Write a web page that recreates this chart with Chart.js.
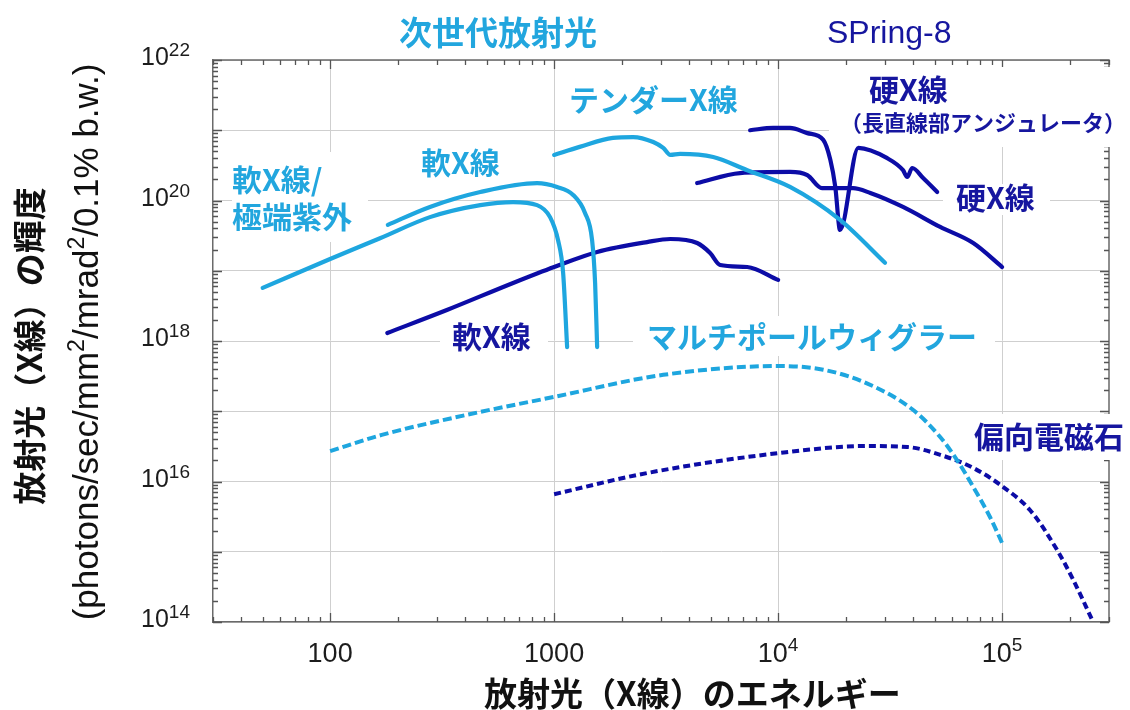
<!DOCTYPE html>
<html lang="ja">
<head>
<meta charset="utf-8">
<title>放射光の輝度</title>
<script src="https://cdn.jsdelivr.net/npm/chart.js@4.4.1/dist/chart.umd.min.js"></script>
<style>
  html, body { margin: 0; padding: 0; background: #ffffff; }
  #wrap { width: 1130px; height: 710px; }
</style>
</head>
<body>
<div id="wrap"><canvas id="chart" width="1130" height="710"></canvas></div>
<script>
// ---- Photon energy (eV) and brightness (photons/sec/mm^2/mrad^2/0.1% b.w.) ----

// Next-generation source: soft X-ray / extreme UV undulator
const euvEnergy = [50, 100, 167, 279, 468, 656, 839, 959, 1042, 1097, 1143];
const euvBrightness = [5.7e18, 1.47e19, 2.9e19, 5.8e19, 8.6e19, 9.5e19, 8.6e19, 5.8e19, 2.7e19, 9.3e18, 8.2e17];

// Next-generation source: soft X-ray undulator
const softNextEnergy = [181, 279, 468, 839, 1031, 1216, 1375, 1478, 1524, 1556];
const softNextBrightness = [4.5e19, 8.1e19, 1.32e20, 1.77e20, 1.56e20, 1.2e20, 6.6e19, 2.7e19, 6.7e18, 8.2e17];

// Next-generation source: tender X-ray undulator
const tenderEnergy = [1000, 1300, 1830, 2250, 2770, 3070, 3300, 3650, 5130, 7280, 11300, 18900, 30000];
const tenderBrightness = [4.45e20, 5.8e20, 7.8e20, 8.0e20, 6.8e20, 5.6e20, 4.45e20, 4.6e20, 4.16e20, 2.7e20, 1.56e20, 5.3e19, 1.3e19];

// Next-generation source: multipole wiggler
const mpwEnergy = [100, 170, 470, 1000, 3070, 10000, 15900, 24900, 40100, 52900, 63000, 74300, 88400, 100000];
const mpwBrightness = [2.7e16, 4.6e16, 9.8e16, 1.6e17, 3.3e17, 4.4e17, 3.9e17, 2.5e17, 1.04e17, 4.3e16, 2.0e16, 8.4e15, 3.1e15, 1.33e15];

// SPring-8: soft X-ray undulator
const softS8Energy = [180, 332, 656, 1000, 1556, 2600, 3300, 4350, 4970, 5510, 7280, 10000];
const softS8Brightness = [1.3e18, 2.76e18, 6.7e18, 1.13e19, 1.85e19, 2.56e19, 2.83e19, 2.48e19, 1.79e19, 1.21e19, 1.13e19, 7.4e18];

// SPring-8: standard hard X-ray undulator
const hardS8Energy = [4350, 6760, 11300, 13500, 15700, 21600, 25800, 36100, 52900, 74300, 100000];
const hardS8Brightness = [1.77e20, 2.46e20, 2.55e20, 2.3e20, 1.5e20, 1.5e20, 1.28e20, 8.1e19, 4.2e19, 2.48e19, 1.13e19];

// SPring-8: long straight-section undulator
const longUndEnergy = [7500, 9500, 11300, 13500, 15900, 17100, 18000, 18900, 22800, 30700, 36100, 37700, 39700, 44400, 51300];
const longUndBrightness = [1.0e21, 1.08e21, 1.08e21, 9.1e20, 7.3e20, 3.8e20, 1.56e20, 3.8e19, 5.6e20, 4.0e20, 2.7e20, 2.16e20, 2.9e20, 2.09e20, 1.32e20];

// SPring-8: bending magnet
const bmEnergy = [1000, 2600, 10200, 24900, 37700, 52900, 74300, 100900, 133400, 176000, 207600, 252400];
const bmBrightness = [6.6e15, 1.32e16, 2.55e16, 3.2e16, 3.1e16, 2.4e16, 1.56e16, 8.4e15, 3.9e15, 1.06e15, 4.0e14, 1.07e14];

// Axis tick labels
const xTickValues = [100, 1000, 1e4, 1e5];
const xTickBase = ['100', '1000', '10', '10'];
const xTickExp = ['', '', '4', '5'];
const yTickValues = [1e22, 1e20, 1e18, 1e16, 1e14];
const yTickExp = ['22', '20', '18', '16', '14'];

// Text
const xTitle = '放射光（X線）のエネルギー';
const yTitleMain = '放射光（X線）の輝度';
const yTitleUnitParts = [['(photons/sec/mm', false], ['2', true], ['/mrad', false], ['2', true], ['/0.1% b.w.)', false]];

const LIGHT = '#1ea6df';
const DARK = '#0c0ca6';
const LIGHT_TEXT = '#22a6de';
const DARK_TEXT = '#16169f';

const CJK = '"Noto Sans CJK JP", "Noto Sans", sans-serif';
const LATIN = '"Liberation Sans", Arial, sans-serif';

// Annotation text and where it sits on the canvas
const annotations = [
  { text: '次世代放射光', x: 399, y: 32, size: 33, color: LIGHT_TEXT, font: CJK, weight: 'bold' },
  { text: 'SPring-8', x: 827, y: 34, size: 32, color: DARK_TEXT, font: LATIN, weight: 'normal' },
  { text: 'テンダーX線', x: 569, y: 100, size: 30, color: LIGHT_TEXT, font: CJK, weight: 'bold' },
  { text: '硬X線', x: 869, y: 90, size: 30, color: DARK_TEXT, font: CJK, weight: 'bold' },
  { text: '（長直線部アンジュレータ）', x: 840, y: 123, size: 22, color: DARK_TEXT, font: CJK, weight: 'bold' },
  { text: '軟X線', x: 421, y: 163, size: 30, color: LIGHT_TEXT, font: CJK, weight: 'bold' },
  { text: '軟X線/', x: 232, y: 180, size: 30, color: LIGHT_TEXT, font: CJK, weight: 'bold' },
  { text: '極端紫外', x: 232, y: 217, size: 30, color: LIGHT_TEXT, font: CJK, weight: 'bold' },
  { text: '硬X線', x: 956, y: 198, size: 30, color: DARK_TEXT, font: CJK, weight: 'bold' },
  { text: '軟X線', x: 452, y: 337, size: 30, color: DARK_TEXT, font: CJK, weight: 'bold' },
  { text: 'マルチポールウィグラー', x: 647, y: 337, size: 30, color: LIGHT_TEXT, font: CJK, weight: 'bold' },
  { text: '偏向電磁石', x: 974, y: 437, size: 30, color: DARK_TEXT, font: CJK, weight: 'bold' }
];

// White panels behind annotations that interrupt the grid
const labelPanels = [
  [232, 152, 136, 90],
  [440, 321, 108, 34],
  [633, 316, 362, 40],
  [829, 67, 301, 80],
  [943, 184, 107, 31],
  [964, 414, 166, 46]
];

function series(energy, brightness) {
  return energy.map((e, i) => ({ x: e, y: brightness[i] }));
}

function lineSet(label, energy, brightness, color, dash) {
  return {
    label,
    data: series(energy, brightness),
    borderColor: color,
    backgroundColor: color,
    borderWidth: dash ? 4 : 4.2,
    borderDash: dash || [],
    borderCapStyle: dash ? 'butt' : 'round',
    borderJoinStyle: 'round',
    pointRadius: 0,
    fill: false,
    cubicInterpolationMode: 'monotone'
  };
}

const datasets = [
  lineSet('軟X線/極端紫外', euvEnergy, euvBrightness, LIGHT),
  lineSet('軟X線 (次世代)', softNextEnergy, softNextBrightness, LIGHT),
  lineSet('テンダーX線', tenderEnergy, tenderBrightness, LIGHT),
  lineSet('マルチポールウィグラー', mpwEnergy, mpwBrightness, LIGHT, [9, 4]),
  lineSet('軟X線 (SPring-8)', softS8Energy, softS8Brightness, DARK),
  lineSet('硬X線', hardS8Energy, hardS8Brightness, DARK),
  lineSet('硬X線（長直線部アンジュレータ）', longUndEnergy, longUndBrightness, DARK),
  lineSet('偏向電磁石', bmEnergy, bmBrightness, DARK, [7, 4])
];

function decadeTicks(min, max) {
  const out = [];
  for (let p = Math.floor(Math.log10(min)); p <= Math.ceil(Math.log10(max)); p++) {
    const v = Math.pow(10, p);
    if (v >= min * 0.999 && v <= max * 1.001) out.push({ value: v, major: true });
  }
  return out;
}

function minorValues(min, max) {
  const out = [];
  for (let p = Math.floor(Math.log10(min)); p <= Math.ceil(Math.log10(max)); p++) {
    for (let m = 1; m <= 9; m++) {
      const v = m * Math.pow(10, p);
      if (v >= min * 0.999 && v <= max * 1.001) out.push({ v, major: m === 1 });
    }
  }
  return out;
}

function drawRich(ctx, parts, size, supSize, rise) {
  // draws centred on the current origin
  let total = 0;
  const widths = parts.map(([t, sup]) => {
    ctx.font = (sup ? supSize : size) + 'px ' + LATIN;
    const w = ctx.measureText(t).width;
    total += w;
    return w;
  });
  let x = -total / 2;
  ctx.textAlign = 'left';
  ctx.textBaseline = 'middle';
  parts.forEach(([t, sup], i) => {
    ctx.font = (sup ? supSize : size) + 'px ' + LATIN;
    ctx.fillText(t, x, sup ? -rise : 0);
    x += widths[i];
  });
}

function drawPower(ctx, base, exp, x, y, align, baseSize, expSize, rise) {
  ctx.font = baseSize + 'px ' + LATIN;
  const wb = ctx.measureText(base).width;
  ctx.font = expSize + 'px ' + LATIN;
  const we = exp ? ctx.measureText(exp).width : 0;
  const total = wb + we;
  const left = align === 'right' ? x - total : (align === 'center' ? x - total / 2 : x);
  ctx.textAlign = 'left';
  ctx.textBaseline = 'alphabetic';
  ctx.font = baseSize + 'px ' + LATIN;
  ctx.fillText(base, left, y);
  if (exp) {
    ctx.font = expSize + 'px ' + LATIN;
    ctx.fillText(exp, left + wb, y - rise);
  }
}

const framePlugin = {
  id: 'frame',
  beforeDatasetsDraw(chart) {
    const { ctx, chartArea: a, scales } = chart;
    const xs = scales.x, ys = scales.y;
    ctx.save();
    // top and right frame
    ctx.strokeStyle = '#6a6a6a';
    ctx.lineWidth = 1.5;
    ctx.beginPath();
    ctx.moveTo(a.left, a.top); ctx.lineTo(a.right, a.top); ctx.lineTo(a.right, a.bottom);
    ctx.stroke();
    // inward tick marks on all four sides
    ctx.strokeStyle = '#555555';
    ctx.lineWidth = 1.3;
    ctx.beginPath();
    minorValues(xs.min, xs.max).forEach(({ v, major }) => {
      const px = Math.round(xs.getPixelForValue(v)) + 0.5;
      const len = major ? 9 : 5;
      ctx.moveTo(px, a.bottom); ctx.lineTo(px, a.bottom - len);
      ctx.moveTo(px, a.top); ctx.lineTo(px, a.top + len);
    });
    minorValues(ys.min, ys.max).forEach(({ v, major }) => {
      const py = Math.round(ys.getPixelForValue(v)) + 0.5;
      const len = major ? 9 : 5;
      ctx.moveTo(a.left, py); ctx.lineTo(a.left + len, py);
      ctx.moveTo(a.right, py); ctx.lineTo(a.right - len, py);
    });
    ctx.stroke();
    // white panels behind the annotations
    ctx.fillStyle = '#ffffff';
    labelPanels.forEach(([x, y, w, h]) => ctx.fillRect(x, y, w, h));
    ctx.restore();
  },
  afterDraw(chart) {
    const { ctx, chartArea: a, scales } = chart;
    const xs = scales.x, ys = scales.y;
    ctx.save();
    // tick labels
    ctx.fillStyle = '#1c1c1c';
    xTickValues.forEach((v, i) => {
      const px = xs.getPixelForValue(v);
      drawPower(ctx, xTickBase[i], xTickExp[i], px, a.bottom + 40, 'center', 27, 19, 11);
    });
    yTickValues.forEach((v, i) => {
      const py = ys.getPixelForValue(v);
      drawPower(ctx, '10', yTickExp[i], 190, py + 5, 'right', 25, 19, 9);
    });
    // x axis title
    ctx.fillStyle = '#111111';
    ctx.font = 'bold 33px ' + CJK;
    ctx.textAlign = 'left';
    ctx.textBaseline = 'middle';
    ctx.fillText(xTitle, 484, 693);
    // y axis title, two lines
    ctx.save();
    ctx.translate(29, 346);
    ctx.rotate(-Math.PI / 2);
    ctx.font = 'bold 33px ' + CJK;
    ctx.textAlign = 'center';
    ctx.textBaseline = 'middle';
    ctx.fillText(yTitleMain, 0, 0);
    ctx.restore();
    ctx.save();
    ctx.translate(88, 342);
    ctx.rotate(-Math.PI / 2);
    drawRich(ctx, yTitleUnitParts, 35, 23, 10);
    ctx.restore();
    // annotations
    annotations.forEach(t => {
      ctx.fillStyle = t.color;
      ctx.font = t.weight + ' ' + t.size + 'px ' + t.font;
      ctx.textAlign = 'left';
      ctx.textBaseline = 'middle';
      ctx.fillText(t.text, t.x, t.y);
    });
    ctx.restore();
  }
};

new Chart(document.getElementById('chart'), {
  type: 'line',
  data: { datasets },
  plugins: [framePlugin],
  options: {
    responsive: false,
    animation: false,
    parsing: true,
    layout: { padding: { left: 213, right: 21, top: 60, bottom: 88 } },
    plugins: { legend: { display: false }, tooltip: { enabled: false }, title: { display: false } },
    scales: {
      x: {
        type: 'logarithmic',
        min: 30,
        max: 3e5,
        afterBuildTicks: s => { s.ticks = decadeTicks(s.min, s.max); },
        ticks: { display: false },
        grid: { color: '#cfcfcf', lineWidth: 1, drawTicks: false },
        border: { color: '#6a6a6a', width: 1.5 }
      },
      y: {
        type: 'logarithmic',
        min: 1e14,
        max: 1e22,
        afterBuildTicks: s => { s.ticks = decadeTicks(s.min, s.max); },
        ticks: { display: false },
        grid: { color: '#cfcfcf', lineWidth: 1, drawTicks: false },
        border: { color: '#6a6a6a', width: 1.5 }
      }
    }
  }
});
</script>
</body>
</html>
